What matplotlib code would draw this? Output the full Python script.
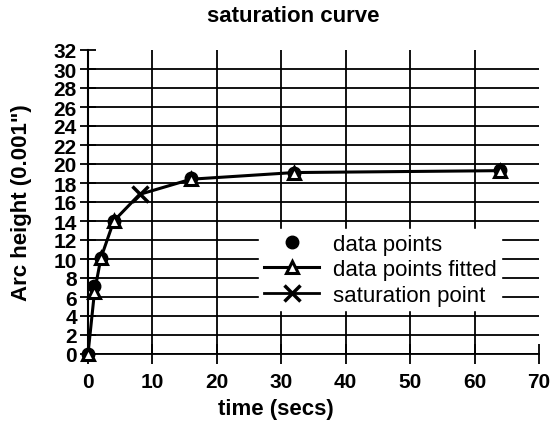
import matplotlib
matplotlib.use("Agg")
import matplotlib.pyplot as plt

plt.rcParams['font.family'] = ['Liberation Sans', 'DejaVu Sans']

# times (secs) and arc heights (0.001")
t_data = [0, 1, 2, 4, 16, 32, 64]
h_data = [0, 7.2, 10.1, 14.0, 18.5, 19.1, 19.4]

t_fit = [0, 1, 2, 4, 8, 16, 32, 64]
h_fit = [0, 6.5, 10.1, 14.0, 16.8, 18.4, 19.1, 19.3]

t_sat = [8]
h_sat = [16.8]

xticks = [0, 10, 20, 30, 40, 50, 60, 70]
yticks = list(range(0, 33, 2))

fig = plt.figure(figsize=(5.53, 4.27), dpi=100)
ax = fig.add_axes([88/553, 72/427, 451/553, 304/427])

ax.plot(t_data, h_data, linestyle='none', marker='o', color='black',
        markersize=9, label='data points', zorder=3, clip_on=False)
ax.plot(t_fit, h_fit, color='black', linewidth=2.2, marker='^',
        markersize=8.5, markerfacecolor='white', markeredgecolor='black',
        markeredgewidth=2.2, markevery=[0, 1, 2, 3, 5, 6, 7],
        label='data points fitted', zorder=4, clip_on=False)
ax.plot(t_sat, h_sat, color='black', linewidth=2, marker='x',
        markersize=11, markeredgewidth=2.5, label='saturation point',
        zorder=5, clip_on=False)

ax.set_xlim(0, 70)
ax.set_ylim(0, 32)
ax.set_xticks(xticks)
ax.set_yticks(yticks)
ax.grid(True, color='black', linewidth=1.3)
# no gridline along the top and right edges
ax.xaxis.get_gridlines()[-1].set_visible(False)
ax.yaxis.get_gridlines()[-1].set_visible(False)
for s in ['top', 'right']:
    ax.spines[s].set_visible(False)
ax.spines['left'].set_linewidth(1.5)
ax.spines['bottom'].set_linewidth(1.3)
ax.tick_params(axis='x', direction='inout', length=14, width=1.3, pad=6,
               labelsize=15)
ax.tick_params(axis='y', direction='inout', length=12, width=1.3, pad=2,
               labelsize=15)
for lab in ax.get_xticklabels() + ax.get_yticklabels():
    lab.set_fontweight('bold')

leg = ax.legend(loc='upper left', bbox_to_anchor=(0.38, 0.41), fontsize=16,
                frameon=True, fancybox=False, framealpha=1, edgecolor='white',
                handlelength=2.5, handletextpad=0.6, labelspacing=0.2,
                borderpad=0.2, borderaxespad=0)

fig.text(293/553, 1 - 17/427, 'saturation curve', ha='center', va='center',
         fontsize=16, fontweight='bold')
fig.text(276/553, 1 - 410/427, 'time (secs)', ha='center', va='center',
         fontsize=16, fontweight='bold')
fig.text(22/553, 1 - 203/427, 'Arc height (0.001")', ha='center', va='center',
         rotation=90, fontsize=16, fontweight='bold')

fig.savefig('out.png', dpi=100)
